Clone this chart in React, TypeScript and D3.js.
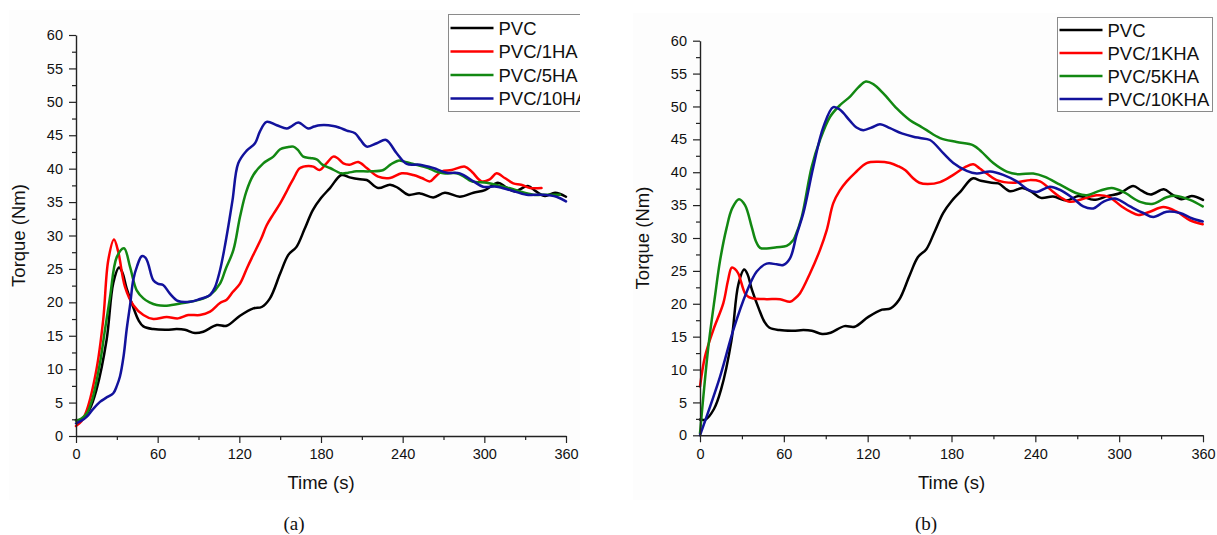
import React, { useEffect, useRef } from 'react';
import * as d3 from 'd3';

type P = [number, number];

// ---- Data (time s, torque Nm) ----
const pvc: P[] = [[0,2.4],[4,2.4],[10,4.0],[15,6.9],[22.5,14.4],[27.4,22.9],[31.6,25.2],[34,24.5],[37.2,22.1],[42,19.3],[46,17.3],[49.5,16.4],[56.8,16.0],[66.6,15.9],[74,16.0],[80,15.9],[87.4,15.4],[93.5,15.6],[103.4,16.6],[110.7,16.5],[120.5,18.0],[130.3,19.1],[136.4,19.3],[142.5,20.6],[150,24.3],[156,27.1],[162,28.3],[168,31],[174,33.8],[180,35.6],[186.6,37.1],[195,39.05],[201,38.7],[208.7,38.4],[213.6,38.3],[222,37.1],[230.7,37.6],[236.8,37.1],[244,36.1],[252.7,36.3],[262.5,35.7],[271,36.4],[282,35.8],[292,36.4],[300.5,36.8],[310,37.9],[316,37.2],[322.5,36.6],[332,37.4],[338,36.6],[344.6,35.9],[352,36.4],[360,35.8]];

const pvc1HA: P[] = [[0,1.5],[4,2.2],[8,3.9],[15,9.9],[20,17.4],[23.7,26.3],[27.9,29.4],[31,27.6],[36,22.3],[42,19.6],[49.5,18.1],[56.8,17.5],[66.6,17.8],[75,17.6],[82.5,18.1],[91,18.1],[98.5,18.6],[105.8,19.9],[110.7,20.4],[115,21.5],[120.5,22.8],[126,25.3],[130,27],[136,29.5],[140,31.5],[145,33.2],[150,34.8],[154,36.3],[157,37.5],[160,38.6],[164,40.0],[167,40.3],[171,40.4],[174.4,40.3],[179,39.8],[184,40.8],[189,41.8],[192,41.6],[196.4,40.8],[201,40.6],[207.4,41.0],[213.6,40.1],[222,38.8],[230.7,38.6],[239.3,39.3],[247.8,39.05],[254,38.6],[260,38.1],[264,38.8],[268.7,39.6],[276,39.8],[285.8,40.3],[291,39.5],[298,38.1],[304,38.4],[309,39.3],[315,38.6],[321.3,37.8],[327,37.6],[333.6,37.1],[342,37.1]];

const pvc5HA: P[] = [[0,2.3],[4,2.6],[8,3.4],[12,5.5],[17.6,10.9],[21,15.5],[25,20.8],[30,26.8],[35.3,28.1],[39.7,25.3],[44.6,21.8],[49.5,20.6],[54,20],[59.3,19.6],[66.6,19.5],[78.8,19.9],[91,20.4],[98.5,21.1],[105.8,22.8],[110,25],[115.6,27.8],[120.5,32.8],[125,36.5],[130.3,39.05],[137.6,40.8],[145,41.8],[150,42.9],[155,43.2],[159.7,43.3],[163,42.8],[167,41.8],[172,41.6],[176.8,41.4],[181,40.6],[186.6,40.1],[195,39.3],[200,39.4],[206,39.6],[216,39.6],[225.8,39.8],[231,40.6],[236.8,41.2],[242,41.0],[247.8,40.7],[258.8,40.1],[264,39.6],[269.9,39.3],[279.7,39.3],[285,38.8],[290.7,38.1],[301.7,37.9],[308,37.6],[314,37.3],[320,37.0],[326,36.6],[336,36.1],[345.8,36.1],[355.6,36.1]];

const pvc10HA: P[] = [[0,1.9],[4,2.3],[8,2.9],[12,3.9],[17.6,5.1],[22,5.7],[27.4,6.4],[30,7.5],[32.3,8.9],[35,12],[37.2,15.9],[40,20],[42,23.3],[45,25.5],[48.3,26.9],[51,26.7],[53,25.8],[56.8,23.3],[60,22.8],[64,22.6],[69,21.3],[75,20.2],[83.8,20.1],[91,20.5],[98.5,21.1],[102,22.2],[105.8,24.8],[109,28],[112,31.5],[115,35.3],[119.2,40.8],[125.4,42.7],[131.5,43.8],[135,45.5],[140,47.0],[147.5,46.5],[154.8,46.0],[158,46.3],[163.3,46.9],[170.7,46.0],[175,46.3],[179.3,46.5],[189,46.4],[194,46.1],[198.9,45.7],[205,45.3],[209,44.3],[213.6,43.3],[221,43.8],[227.8,44.3],[235.6,42.3],[243,40.7],[252.7,40.6],[262.5,40.1],[272.3,39.4],[282,39.3],[292,38.1],[299,37.3],[309,37.3],[318.9,36.8],[331,36.1],[343.3,36.1],[353,35.8],[360,35.1]];

const pvc1KHA: P[] = [[0,7.4],[3.6,12.0],[9.5,16.0],[16.7,20.1],[20,23.5],[22.7,25.5],[25,25.3],[27.4,24.6],[32.2,21.6],[35,21],[38.2,20.8],[47.7,20.7],[57.3,20.7],[64.4,20.3],[68,20.8],[71.6,21.6],[78.7,24.6],[85.9,28.2],[90.7,31.2],[95.4,35.3],[100,37.2],[105,38.6],[111,39.9],[119.3,41.4],[127.6,41.6],[136,41.4],[142,40.9],[147,40.3],[152,39.2],[157,38.4],[163,38.2],[171.8,38.5],[181.3,39.6],[190,40.8],[195.6,41.2],[200,40.6],[205.2,39.8],[212.3,38.8],[224.2,38.4],[230,38.6],[236.2,38.8],[243.3,38.6],[252.9,37.0],[258,36.2],[264.8,35.5],[273.2,35.9],[283.9,36.5],[292.2,36.3],[301.8,34.8],[308,34],[313.7,33.5],[322,34.0],[331.6,34.7],[341.2,34.0],[350.7,32.7],[359.8,32.1]];

const pvc5KHA: P[] = [[0,0.3],[2.4,5.9],[6,13.5],[10.7,21.1],[14.3,26.5],[19,31.5],[23,34.5],[27.9,35.9],[32.2,35.0],[37,31.7],[40,29.5],[43,28.5],[47.7,28.4],[54.9,28.6],[62,28.8],[66.8,29.7],[68,30.2],[72.8,33.2],[79.9,40.8],[85.9,44.9],[93,48.4],[100.2,50.2],[107.4,51.5],[113.3,52.9],[118.8,53.8],[124,53.4],[131.2,52.0],[140.8,49.7],[150.3,47.9],[157.5,47.0],[162.2,46.4],[171.8,45.2],[183.7,44.6],[195.6,44.1],[201.6,43.1],[209.9,41.4],[219.5,40.1],[227.8,39.7],[238.5,39.8],[246.9,39.3],[257.7,38.1],[269.6,36.8],[276.8,36.5],[286.3,37.2],[294.7,37.6],[303,37.0],[315,35.5],[324.4,35.2],[334,36.2],[341.2,36.4],[350.7,35.8],[359.8,34.8]];

const pvc10KHA: P[] = [[0,0],[14.3,8.9],[23.8,16.0],[33.4,21.8],[40.6,24.9],[47.7,26.1],[54.9,26.0],[59.6,25.9],[64.4,26.9],[69.2,30.5],[74,33.8],[81.1,40.8],[88.3,46.9],[95.4,49.9],[100.2,49.5],[107.4,47.8],[112,46.8],[116.9,46.4],[122.9,46.8],[128.8,47.3],[136,46.7],[144.4,45.9],[152.7,45.4],[157.5,45.2],[164.6,44.9],[174.1,42.9],[181.3,41.4],[190.9,40.2],[198,39.8],[207.6,40.1],[217,39.6],[226.7,38.6],[235,37.3],[241,37.0],[250.5,37.8],[257.7,37.3],[267.2,36.0],[274.3,34.8],[281.5,34.5],[288.6,35.5],[297,36.0],[307.8,34.8],[317.3,33.8],[324.4,33.2],[334,34.0],[343.5,33.8],[351.9,33.0],[359.8,32.5]];

const legendA = ['PVC', 'PVC/1HA', 'PVC/5HA', 'PVC/10HA'];
const legendB = ['PVC', 'PVC/1KHA', 'PVC/5KHA', 'PVC/10KHA'];
const xTicks = [0, 60, 120, 180, 240, 300, 360];
const xMinor = [30, 90, 150, 210, 270, 330];
const yTicks = [0, 5, 10, 15, 20, 25, 30, 35, 40, 45, 50, 55, 60];
const yMinor = [2.5, 7.5, 12.5, 17.5, 22.5, 27.5, 32.5, 37.5, 42.5, 47.5, 52.5, 57.5];
const colors = ['#000000', '#ff0000', '#128812', '#12129c'];
const xTitle = 'Time (s)';
const yTitle = 'Torque (Nm)';

const SANS = '"Liberation Sans", Arial, sans-serif';
const SERIF = '"Liberation Serif", "Times New Roman", serif';

interface PanelCfg {
  id: string;
  x0: number; x1: number; y0: number; y1: number;
  bg: [number, number, number, number];
  clipRight: number;
  series: P[][];
  labels: string[];
  legend: { x: number; y: number; w: number; h: number; rowY: number[] };
  yTitleX: number;
  caption: string;
  captionX: number;
}

const panels: PanelCfg[] = [
  {
    id: 'a', x0: 76, x1: 566, y0: 436, y1: 35,
    bg: [9, 10, 571, 490], clipRight: 580,
    series: [pvc, pvc1HA, pvc5HA, pvc10HA], labels: legendA,
    legend: { x: 448.5, y: 14.5, w: 150, h: 97, rowY: [28, 51.5, 75, 98.5] },
    yTitleX: 25, caption: '(a)', captionX: 294,
  },
  {
    id: 'b', x0: 700, x1: 1203, y0: 435.3, y1: 40.7,
    bg: [633, 13, 584, 487], clipRight: 1217,
    series: [pvc, pvc1KHA, pvc5KHA, pvc10KHA], labels: legendB,
    legend: { x: 1057.5, y: 17.5, w: 155, h: 94, rowY: [30, 53, 76, 99] },
    yTitleX: 649, caption: '(b)', captionX: 926,
  },
];

export default function App() {
  const ref = useRef<SVGSVGElement>(null);
  useEffect(() => {
    const svg = d3.select(ref.current);
    svg.selectAll('*').remove();
    const defs = svg.append('defs');

    panels.forEach((p) => {
      defs.append('clipPath').attr('id', 'clip-' + p.id)
        .append('rect').attr('x', 0).attr('y', 0).attr('width', p.clipRight).attr('height', 535);

      const g = svg.append('g').attr('clip-path', `url(#clip-${p.id})`);
      g.append('rect').attr('x', p.bg[0]).attr('y', p.bg[1]).attr('width', p.bg[2]).attr('height', p.bg[3])
        .attr('fill', '#fdfdfd');

      const x = d3.scaleLinear().domain([0, 360]).range([p.x0, p.x1]);
      const y = d3.scaleLinear().domain([0, 60]).range([p.y0, p.y1]);

      const line = d3.line<P>().x((d) => x(d[0])).y((d) => y(d[1])).curve(d3.curveCatmullRom.alpha(0.5));

      p.series.forEach((s, i) => {
        g.append('path').attr('d', line(s) || '').attr('fill', 'none')
          .attr('stroke', colors[i]).attr('stroke-width', 2.5)
          .attr('stroke-linejoin', 'round').attr('stroke-linecap', 'round');
      });

      const styleAxis = (ax: any) => {
        ax.select('.domain').attr('stroke', '#222').attr('stroke-width', 1.4);
        ax.selectAll('.tick line').attr('stroke', '#222').attr('stroke-width', 1.2);
        ax.selectAll('.tick text').attr('fill', '#111').style('font-family', SANS).style('font-size', '14.5px');
      };

      // x axis
      const xa = g.append('g').attr('transform', `translate(0,${p.y0})`)
        .call(d3.axisBottom(x).tickValues(xTicks).tickSize(7).tickPadding(6).tickSizeOuter(0).tickFormat(d3.format('d')));
      styleAxis(xa);
      const xm = g.append('g').attr('transform', `translate(0,${p.y0})`)
        .call(d3.axisBottom(x).tickValues(xMinor).tickSize(4).tickSizeOuter(0).tickFormat(() => ''));
      xm.select('.domain').remove();
      xm.selectAll('.tick line').attr('stroke', '#222').attr('stroke-width', 1.2);

      // y axis
      const ya = g.append('g').attr('transform', `translate(${p.x0},0)`)
        .call(d3.axisLeft(y).tickValues(yTicks).tickSize(7).tickPadding(6).tickSizeOuter(0).tickFormat(d3.format('d')));
      styleAxis(ya);
      const ym = g.append('g').attr('transform', `translate(${p.x0},0)`)
        .call(d3.axisLeft(y).tickValues(yMinor).tickSize(4).tickSizeOuter(0).tickFormat(() => ''));
      ym.select('.domain').remove();
      ym.selectAll('.tick line').attr('stroke', '#222').attr('stroke-width', 1.2);

      // titles
      g.append('text').attr('x', (p.x0 + p.x1) / 2).attr('y', 489).attr('text-anchor', 'middle')
        .style('font-family', SANS).style('font-size', '18.5px').attr('fill', '#111').text(xTitle);
      g.append('text').attr('transform', `translate(${p.yTitleX},${(p.y0 + p.y1) / 2}) rotate(-90)`)
        .attr('text-anchor', 'middle').style('font-family', SANS).style('font-size', '18.5px')
        .attr('fill', '#111').text(yTitle);

      // legend
      const L = p.legend;
      g.append('rect').attr('x', L.x).attr('y', L.y).attr('width', L.w).attr('height', L.h)
        .attr('fill', '#ffffff').attr('stroke', '#8a8a8a').attr('stroke-width', 1);
      p.labels.forEach((lab, i) => {
        g.append('line').attr('x1', L.x + 2).attr('x2', L.x + 45).attr('y1', L.rowY[i]).attr('y2', L.rowY[i])
          .attr('stroke', colors[i]).attr('stroke-width', 2.6);
        g.append('text').attr('x', L.x + 50).attr('y', L.rowY[i] + 6.5)
          .style('font-family', SANS).style('font-size', '18.5px').attr('fill', '#111').text(lab);
      });

      // caption
      svg.append('text').attr('x', p.captionX).attr('y', 530).attr('text-anchor', 'middle')
        .style('font-family', SERIF).style('font-size', '19px').attr('fill', '#111').text(p.caption);
    });
  }, []);

  return (
    <svg ref={ref} width={1217} height={535}
      style={{ position: 'absolute', left: 0, top: 0, background: '#ffffff', display: 'block' }} />
  );
}
